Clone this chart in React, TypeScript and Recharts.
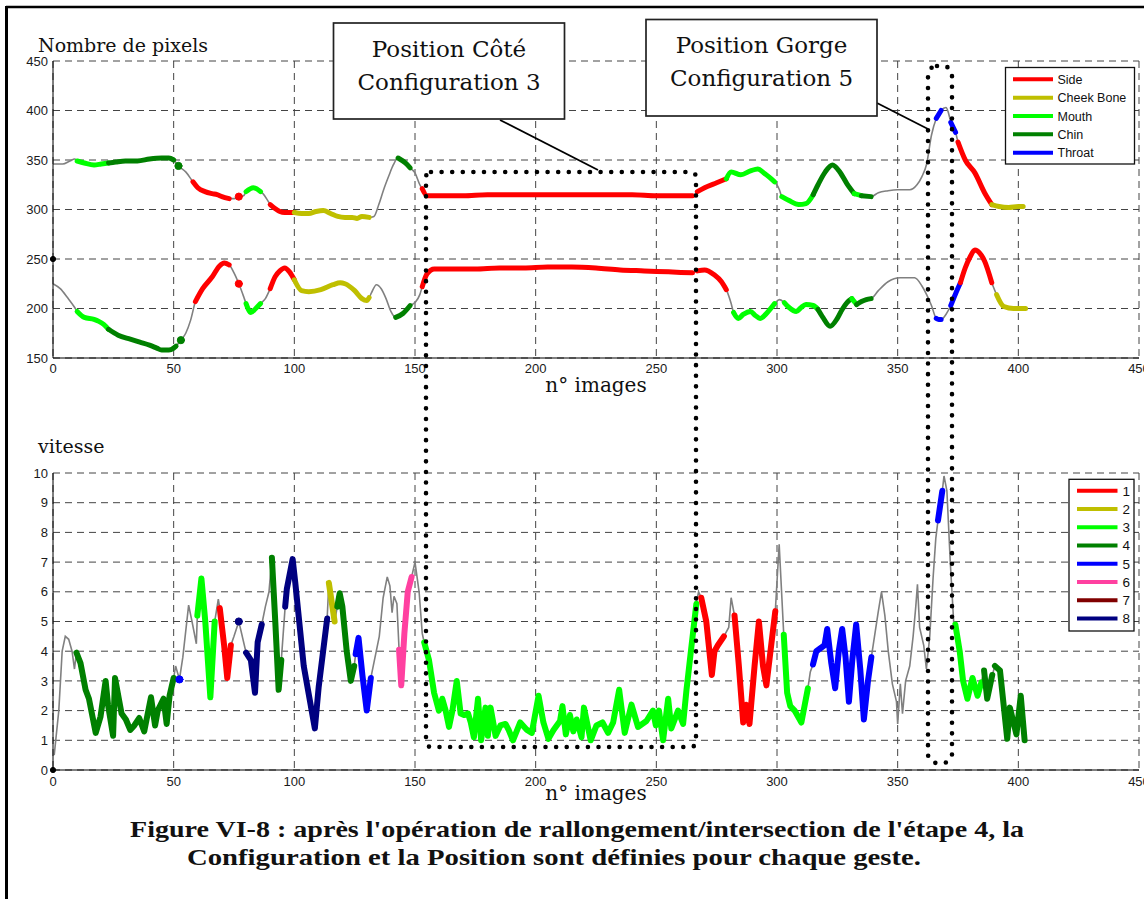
import React from "react";
import { CartesianGrid, Line, LineChart, XAxis, YAxis } from "recharts";

type Pt = [number, number];
// [from image, to image, class index]
type Seg = [number, number, number];

// face regions (top chart) and hand configurations (bottom chart)
const parts = ["Side", "Cheek Bone", "Mouth", "Chin", "Throat"];
const partColors = ["#ff0000", "#bfbf00", "#00ff00", "#008000", "#0000ff"];
const configs = ["1", "2", "3", "4", "5", "6", "7", "8"];
const configColors = ["#ff0000", "#bfbf00", "#00ff00", "#008000", "#0000ff", "#ff40a0", "#800000", "#000080"];

const imageTicks = [0, 50, 100, 150, 200, 250, 300, 350, 400, 450];
const pixelTicks = [150, 200, 250, 300, 350, 400, 450];
const speedTicks = [0, 1, 2, 3, 4, 5, 6, 7, 8, 9, 10];

// stray black markers on the y axis
const pixelMarker: Pt[] = [[0, 250]];
const speedMarker: Pt[] = [[0, 0]];

// upper contour (nombre de pixels)
const upperPixels: Pt[] = [
  [0, 346], [4, 346], [7, 349], [9, 351], [10, 349], [13, 347], [17, 345], [20, 346], [23, 347],
  [26, 348], [30, 349], [35, 349], [40, 351], [45, 352], [48, 352], [50, 350], [52, 344], [55, 338],
  [58, 328], [60, 322], [63, 318], [66, 316], [68, 315], [70, 313], [73, 311], [75, 311], [77, 313],
  [79, 314], [80, 318], [83, 322], [86, 318], [87, 316], [89, 309], [90, 305], [92, 301], [94, 298],
  [96, 297], [100, 297], [103, 296], [106, 296], [109, 298], [112, 299], [115, 296], [118, 293],
  [121, 292], [124, 292], [126, 291], [128, 293], [131, 292], [133, 293], [135, 305], [137, 320],
  [139, 333], [141, 345], [143, 352], [146, 347], [148, 342], [150, 337], [152, 325], [153, 321],
  [155, 314], [160, 314], [170, 314], [180, 315], [190, 315], [200, 315], [210, 315], [220, 315],
  [230, 315], [240, 315], [250, 314], [260, 314], [265, 314], [267, 318], [270, 322], [275, 327],
  [279, 331], [281, 338], [285, 335], [289, 339], [292, 341], [295, 336], [299, 328], [301, 320],
  [302, 313], [305, 309], [309, 305], [312, 306], [315, 315], [317, 325], [320, 338], [323, 345],
  [326, 338], [329, 326], [332, 316], [335, 314], [339, 313], [342, 317], [346, 319], [350, 320],
  [355, 320], [358, 325], [360, 333], [362, 346], [364, 375], [366, 392], [368, 400], [370, 403],
  [371, 398], [372, 388], [374, 378], [375, 368], [378, 350], [382, 337], [386, 317], [389, 305],
  [392, 303], [396, 302], [400, 303], [402, 303],
];
const upperParts: Seg[] = [
  [10, 23, 2], [23, 50, 3], [52, 52, 3], [58, 73, 0], [77, 77, 0], [80, 86, 2], [90, 100, 0],
  [100, 131, 1], [143, 148, 3], [153, 265, 0], [267, 279, 0], [279, 299, 2], [302, 315, 2],
  [315, 332, 3], [332, 335, 2], [335, 339, 3], [366, 368, 4], [372, 374, 4], [375, 389, 0],
  [389, 402, 1],
];

// lower contour
const lowerPixels: Pt[] = [
  [0, 225], [3, 220], [6, 211], [9, 201], [10, 197], [13, 191], [17, 189], [19, 187], [21, 184],
  [23, 179], [27, 173], [32, 169], [36, 166], [40, 163], [43, 160], [45, 158], [48, 158], [50, 160],
  [51, 162], [53, 168], [55, 175], [57, 188], [59, 207], [62, 220], [66, 232], [69, 243], [71, 246],
  [73, 244], [75, 236], [77, 225], [79, 212], [80, 205], [82, 196], [84, 200], [86, 205], [88, 210],
  [90, 220], [92, 232], [94, 238], [96, 241], [98, 237], [100, 229], [103, 218], [106, 217],
  [111, 219], [116, 224], [119, 226], [121, 225], [125, 218], [128, 210], [130, 208], [131, 211],
  [132, 216], [134, 224], [136, 220], [138, 210], [140, 197], [142, 191], [145, 195], [148, 203],
  [150, 206], [152, 214], [153, 222], [155, 235], [158, 240], [165, 240], [175, 240], [185, 241],
  [195, 241], [205, 242], [215, 242], [225, 241], [235, 239], [245, 238], [255, 237], [265, 236],
  [267, 238], [270, 239], [274, 234], [277, 227], [279, 219], [281, 205], [282, 196], [284, 190],
  [286, 194], [289, 197], [291, 193], [293, 190], [296, 196], [299, 205], [301, 209], [303, 206],
  [305, 201], [308, 197], [310, 201], [312, 204], [315, 203], [317, 199], [319, 191], [322, 182],
  [325, 190], [327, 199], [329, 206], [331, 210], [333, 204], [335, 207], [337, 209], [339, 210],
  [342, 218], [346, 227], [351, 231], [357, 231], [360, 223], [362, 214], [364, 203], [366, 190],
  [367, 189], [368, 189], [370, 194], [372, 203], [374, 215], [376, 226], [378, 241], [380, 252],
  [382, 259], [384, 256], [386, 248], [389, 226], [391, 214], [394, 202], [398, 200], [403, 200],
];
const lowerParts: Seg[] = [
  [10, 23, 2], [23, 51, 3], [53, 53, 3], [59, 73, 0], [77, 77, 0], [80, 86, 2], [90, 100, 0],
  [100, 131, 1], [142, 148, 3], [153, 265, 0], [267, 279, 0], [282, 299, 2], [303, 317, 2],
  [317, 331, 3], [331, 333, 2], [333, 339, 3], [366, 368, 4], [372, 376, 4], [376, 389, 0],
  [391, 403, 1],
];

// vitesse
const speed: Pt[] = [
  [0.5, 0.5], [2.4, 2.0], [3.8, 4.0], [5.1, 4.5], [6.5, 4.4], [7.9, 4.0], [8.9, 3.4], [9.7, 3.95],
  [11.4, 3.6], [13.5, 2.7], [14.9, 2.4], [17.7, 1.25], [19.7, 1.8], [21.8, 3.0], [22.8, 2.2],
  [24.9, 1.15], [25.7, 3.1], [28.4, 1.9], [30.2, 1.7], [32, 1.35], [33.7, 1.5], [35.7, 1.75],
  [37.8, 1.3], [40.6, 2.45], [42.3, 1.5], [43.4, 2.0], [45.8, 2.4], [47.1, 1.55], [48.3, 2.5],
  [50, 3.1], [50.8, 3.5], [52.4, 3.05], [53.8, 3.8], [56.2, 5.55], [57.6, 5.0], [59.4, 4.25],
  [59.8, 5.2], [61.5, 6.45], [63.1, 5.0], [65.2, 2.45], [67, 5.0], [68.5, 5.75], [69.1, 5.45],
  [70.9, 4.2], [72.2, 3.1], [73.7, 4.2], [75, 4.5], [77, 5.0], [80, 3.95], [82, 3.7], [83.7, 2.6],
  [84.8, 4.3], [86.5, 4.9], [88, 5.5], [89.5, 6.0], [90.7, 7.15], [92.1, 5.0], [93.5, 2.7],
  [94.6, 3.7], [96.2, 5.5], [96.9, 6.1], [99.3, 7.1], [100.4, 6.3], [103.9, 3.5], [108.5, 1.4],
  [110.1, 2.8], [113.6, 5.1], [114.3, 6.3], [116.7, 5.0], [117.8, 5.5], [118.8, 5.95], [119.9, 5.5],
  [121.7, 4.0], [123.4, 3.0], [124.8, 3.5], [125.4, 3.9], [126.6, 4.45], [128.2, 3.2], [130, 2.0],
  [131.7, 3.1], [135.2, 4.5], [136.8, 5.8], [138.5, 6.5], [139.6, 6.2], [140.5, 5.3], [141.3, 5.85],
  [142.5, 5.6], [143.4, 4.05], [144.3, 2.85], [145.6, 4.6], [147, 6.0], [148.6, 6.5], [150, 7.0],
  [151.7, 6.0], [153, 4.6], [153.8, 4.3], [155.8, 3.7], [157.9, 2.6], [159.9, 2.0], [161.3, 2.4],
  [162.7, 2.0], [164.1, 1.45], [165.5, 2.0], [167.3, 3.0], [168.9, 1.9], [170.3, 1.85], [172, 1.9],
  [173.1, 1.6], [174.4, 1.1], [176.1, 2.4], [177.4, 1.0], [179.2, 2.1], [180.2, 1.15], [181.3, 2.1],
  [183.4, 1.15], [185.4, 1.5], [187.5, 1.55], [188.8, 1.35], [190.6, 1.0], [193.6, 1.6],
  [196.4, 1.35], [198.4, 1.25], [201.2, 2.5], [203.2, 1.6], [205.3, 1.05], [207.4, 1.35],
  [210.1, 1.65], [211.1, 2.15], [212.5, 1.2], [214.2, 1.85], [215.6, 1.3], [217, 1.7], [219, 1.1],
  [220, 2.1], [222.8, 1.0], [225.2, 1.5], [227.7, 1.6], [230, 1.25], [232.1, 1.6], [234.6, 2.7],
  [236.9, 1.25], [239.7, 2.2], [242.4, 1.45], [245.9, 1.65], [248.6, 2.0], [249.8, 1.5],
  [251.1, 2.0], [252.8, 1.0], [254.9, 2.4], [256.2, 1.4], [259, 2.0], [261.1, 1.55], [262.5, 2.7],
  [264.6, 4.2], [266.6, 5.6], [267.5, 6.0], [268.6, 5.8], [270.7, 5.0], [273, 3.2], [274.1, 4.0],
  [275.5, 4.2], [278, 4.5], [280, 4.8], [281, 5.8], [282.4, 5.2], [284.2, 3.5], [286, 1.6],
  [287.2, 2.2], [288.6, 1.55], [290.7, 3.5], [292.5, 5.0], [294.2, 3.5], [295.6, 2.85], [297.3, 4.0],
  [299.3, 5.35], [300.9, 7.6], [302.8, 4.55], [304.2, 2.6], [305.5, 2.15], [307.3, 2.0], [310.1, 1.6],
  [312.8, 2.75], [313.8, 3.3], [314.9, 3.55], [316.3, 4.0], [319.7, 4.2], [320.8, 4.75], [322.5, 3.6],
  [324.1, 2.75], [325.6, 4.0], [327, 4.75], [328.4, 3.8], [329.8, 2.3], [331.2, 3.7], [332.8, 4.9],
  [334.5, 3.4], [336, 1.7], [337.7, 3.0], [339.1, 3.8], [341.9, 5.3], [343.3, 6.0], [344.7, 5.2],
  [346.1, 4.0], [347.8, 2.9], [349.5, 2.3], [350, 1.55], [351.1, 2.9], [352, 1.9], [353.3, 3.0],
  [355, 3.5], [356.4, 4.5], [357.5, 5.5], [358.2, 6.25], [359.1, 4.8], [360.8, 4.2], [361.9, 3.4],
  [363.3, 4.5], [364.7, 6.5], [365.8, 7.8], [366.7, 8.4], [368.5, 9.4], [369.2, 9.9], [370.4, 9.4],
  [371.8, 7.0], [373.2, 5.0], [373.9, 4.9], [375.7, 4.0], [377.1, 3.0], [378.9, 2.4], [381, 3.1],
  [383.1, 2.5], [384.7, 2.95], [385.8, 3.35], [387.1, 2.4], [389.2, 3.2], [390.3, 3.5], [392.4, 3.35],
  [395.4, 1.05], [396.5, 2.1], [399.2, 1.2], [401, 2.5], [402.6, 1.0],
];
const speedConfigs: Seg[] = [
  [9.7, 50, 3], [52.4, 52.4, 4], [59.8, 67, 2], [69.1, 73.7, 0], [77, 77, 7], [80, 86.5, 7],
  [90.7, 94.6, 3], [96.2, 113.6, 7], [114.3, 116.7, 1], [117.8, 124.8, 3], [125.4, 131.7, 4],
  [143.4, 148.6, 5], [153.8, 266.6, 2], [268.6, 278, 0], [282.4, 299.3, 0], [302.8, 312.8, 2],
  [314.9, 339.1, 4], [366.7, 368.5, 4], [373.9, 384.7, 2], [385.8, 389.2, 3], [390.3, 402.6, 3],
];

const rows = (pts: Pt[]) => pts.map(([x, y]) => ({ x, y }));

function series(id: string, pts: Pt[], segs: Seg[], colors: string[], w: number, curve: "monotone" | "linear") {
  const out = [
    <Line key={id} data={rows(pts)} dataKey="y" type={curve} stroke="#808080" strokeWidth={1.6}
      dot={false} activeDot={false} isAnimationActive={false} />,
  ];
  segs.forEach(([a, b, c], i) => {
    const part = pts.filter(([x]) => x >= a && x <= b);
    const col = colors[c];
    out.push(
      <Line key={`${id}-${i}`} data={rows(part)} dataKey="y" type={curve} stroke={col} strokeWidth={w}
        strokeLinecap="round" strokeLinejoin="round"
        dot={part.length === 1 ? { r: 3.6, fill: col, stroke: col, strokeWidth: 1 } : false}
        activeDot={false} isAnimationActive={false} />
    );
  });
  return out;
}

function marker(id: string, pts: Pt[]) {
  return (
    <Line key={id} data={rows(pts)} dataKey="y" stroke="#000" dot={{ r: 2.6, fill: "#000", stroke: "#000" }}
      activeDot={false} isAnimationActive={false} />
  );
}

const tickFont = { fill: "#1a1a1a", fontSize: 13, fontFamily: "Liberation Sans, Arial, sans-serif" };
const serif = "DejaVu Serif, serif";
const capFont = "Liberation Serif, serif";

function Overlay() {
  return (
    <svg width={1144} height={899} style={{ position: "absolute", left: 0, top: 0, pointerEvents: "none" }}>
      <line x1={6} y1={7} x2={1144} y2={7} stroke="#000" strokeWidth={2.6} />
      <line x1={6.5} y1={6} x2={6.5} y2={899} stroke="#000" strokeWidth={3} />

      <text x={38} y={52} fontFamily={serif} fontSize={19} fill="#111">Nombre de pixels</text>
      <text x={38} y={453} fontFamily={serif} fontSize={19} fill="#111">vitesse</text>
      <text x={596} y={392} fontFamily={serif} fontSize={20} fill="#111" textAnchor="middle">n° images</text>
      <text x={596} y={800} fontFamily={serif} fontSize={20} fill="#111" textAnchor="middle">n° images</text>

      <rect x={426} y={172} width={270} height={575} rx={5} fill="none" stroke="#000" strokeWidth={4.6}
        strokeDasharray="0 10.6" strokeLinecap="round" />
      <rect x={928} y={66} width={24} height={697} rx={9} fill="none" stroke="#000" strokeWidth={4.6}
        strokeDasharray="0 10.6" strokeLinecap="round" />

      <line x1={500} y1={120} x2={598} y2={170} stroke="#000" strokeWidth={1.8} />
      <line x1={877} y1={103} x2={928} y2={129} stroke="#000" strokeWidth={1.8} />

      <rect x={333.5} y={23} width={231} height={96} fill="#fff" stroke="#222" strokeWidth={1.7} />
      <text x={449} y={56.5} fontFamily={serif} fontSize={23} fill="#111" textAnchor="middle">Position Côté</text>
      <text x={449} y={90} fontFamily={serif} fontSize={23} fill="#111" textAnchor="middle">Configuration 3</text>

      <rect x={646} y={19.5} width={231} height={96.5} fill="#fff" stroke="#222" strokeWidth={1.7} />
      <text x={761.5} y={52.5} fontFamily={serif} fontSize={23} fill="#111" textAnchor="middle">Position Gorge</text>
      <text x={761.5} y={86} fontFamily={serif} fontSize={23} fill="#111" textAnchor="middle">Configuration 5</text>

      <rect x={1005.5} y={67.5} width={129} height={96.5} fill="#fff" stroke="#111" strokeWidth={1.3} />
      {parts.map((p, i) => (
        <g key={p}>
          <line x1={1013} y1={79.3 + i * 18.35} x2={1053} y2={79.3 + i * 18.35} stroke={partColors[i]} strokeWidth={4} />
          <text x={1057.5} y={83.8 + i * 18.35} fontFamily="Liberation Sans, Arial, sans-serif" fontSize={12.5} fill="#111">{p}</text>
        </g>
      ))}

      <rect x={1069} y={479.3} width={65} height={151.7} fill="#fff" stroke="#111" strokeWidth={1.3} />
      {configs.map((c, i) => (
        <g key={c}>
          <line x1={1077} y1={490.7 + i * 18.25} x2={1117.5} y2={490.7 + i * 18.25} stroke={configColors[i]} strokeWidth={4} />
          <text x={1122.5} y={495.5 + i * 18.25} fontFamily="Liberation Sans, Arial, sans-serif" fontSize={13.5} fill="#111">{c}</text>
        </g>
      ))}

      <text x={577} y={837} fontFamily={capFont} fontWeight="bold" fontSize={23} fill="#111" textAnchor="middle"
        textLength={894} lengthAdjust="spacingAndGlyphs">
        Figure VI-8 : après l'opération de rallongement/intersection de l'étape 4, la
      </text>
      <text x={554} y={865} fontFamily={capFont} fontWeight="bold" fontSize={23} fill="#111" textAnchor="middle"
        textLength={734} lengthAdjust="spacingAndGlyphs">
        Configuration et la Position sont définies pour chaque geste.
      </text>
    </svg>
  );
}

export default function App() {
  return (
    <div style={{ position: "absolute", left: 0, top: 0, width: 1144, height: 899, background: "#fff", overflow: "hidden" }}>
      <div style={{ position: "absolute", left: 0, top: 0 }}>
        <LineChart width={1144} height={400} margin={{ top: 61, right: 5, bottom: 22, left: 13 }}>
          <CartesianGrid stroke="#444" strokeDasharray="7 5" />
          <XAxis type="number" dataKey="x" domain={[0, 450]} ticks={imageTicks} interval={0} height={20}
            tickLine={false} tickSize={3} tickMargin={3} axisLine={{ stroke: "#000" }} tick={tickFont} />
          <YAxis type="number" domain={[150, 450]} ticks={pixelTicks} interval={0} width={40}
            tickLine={false} tickSize={3} tickMargin={2} axisLine={{ stroke: "#000" }} tick={tickFont} />
          {series("up", upperPixels, upperParts, partColors, 5, "monotone")}
          {series("low", lowerPixels, lowerParts, partColors, 5, "monotone")}
          {marker("mk-top", pixelMarker)}
        </LineChart>
      </div>
      <div style={{ position: "absolute", left: 0, top: 400 }}>
        <LineChart width={1144} height={420} margin={{ top: 73, right: 5, bottom: 30, left: 13 }}>
          <CartesianGrid stroke="#444" strokeDasharray="7 5" />
          <XAxis type="number" dataKey="x" domain={[0, 450]} ticks={imageTicks} interval={0} height={20}
            tickLine={false} tickSize={3} tickMargin={4} axisLine={{ stroke: "#000" }} tick={tickFont} />
          <YAxis type="number" domain={[0, 10]} ticks={speedTicks} interval={0} width={40}
            tickLine={false} tickSize={3} tickMargin={2} axisLine={{ stroke: "#000" }} tick={tickFont} />
          {series("v", speed, speedConfigs, configColors, 6, "linear")}
          {marker("mk-bottom", speedMarker)}
        </LineChart>
      </div>
      <Overlay />
    </div>
  );
}
